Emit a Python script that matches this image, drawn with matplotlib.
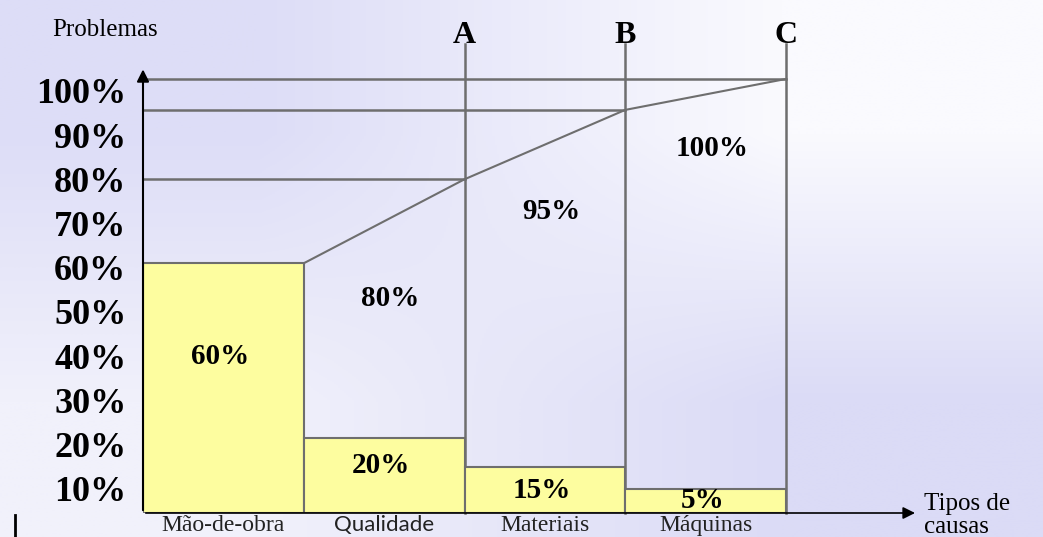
import numpy as np
import matplotlib.pyplot as plt
from matplotlib.lines import Line2D

# Pareto (ABC) diagram
categories = ['Mão-de-obra', 'Qualidade', 'Materiais', 'Máquinas']
shares = ['60%', '20%', '15%', '5%']
bar_tops = [61, 21.5, 15, 10]            # drawn bar heights (tick scale)
cum_labels = ['80%', '95%', '100%']
cum_levels = [61, 80, 95.7, 102.7]      # cumulative curve at bar edges 1..4
zones = ['A', 'B', 'C']
y_ticks = [10, 20, 30, 40, 50, 60, 70, 80, 90, 100]
y_ticklabels = ['10%', '20%', '30%', '40%', '50%', '60%', '70%', '80%', '90%', '100%']

# layout
W, H, DPI = 1043, 537, 100
base = 4.5          # baseline (x axis) value in tick scale
ytop = 120
xmax = 5
px_x = 160.75       # px per bar
px_y = 4.42         # px per percent
x0_px = 143
y0_px = 513         # baseline pixel row

serif = 'Liberation Serif'
grey = '#6e6e6e'
yellow = '#fdfd9f'

fig = plt.figure(figsize=(W / DPI, H / DPI), dpi=DPI)

# soft lavender background
bg = fig.add_axes([0, 0, 1, 1], zorder=-5)
corners = np.array([[[221, 221, 247], [250, 250, 254]],
                    [[241, 241, 251], [219, 219, 246]]]) / 255.0
bg.imshow(corners, extent=[0, 1, 0, 1], aspect='auto', interpolation='bilinear')
bg.axis('off')

ax = fig.add_axes([x0_px / W, (H - y0_px) / H,
                   xmax * px_x / W, (ytop - base) * px_y / H])
ax.set_facecolor('none')
ax.set_xlim(0, xmax)
ax.set_ylim(base, ytop)
for s in ax.spines.values():
    s.set_visible(False)

n = len(categories)
lefts = np.arange(n)
centers = lefts + 0.5
edges = lefts + 1

ax.bar(centers, np.array(bar_tops) - base, bottom=base, width=1,
       color=yellow, edgecolor=grey, linewidth=1.5, zorder=3)

# cumulative curve
ax.plot(edges, cum_levels, color=grey, lw=1.5, zorder=2)
# horizontal guides and vertical zone lines
for e, lev in zip(edges[1:], cum_levels[1:]):
    ax.plot([0, e], [lev, lev], color=grey, lw=1.8, zorder=2)
for e, z in zip(edges[1:], zones):
    ax.plot([e, e], [base, 110.5], color=grey, lw=1.8, zorder=2, clip_on=False)
    ax.text(e, 109.3, z, ha='center', va='bottom', fontsize=23,
            fontweight='bold', family=serif)

# axes arrows
ax.annotate('', xy=(0, 105.5), xytext=(0, base),
            arrowprops=dict(arrowstyle='-|>', color='black', lw=1.5,
                            mutation_scale=18), annotation_clip=False)
ax.annotate('', xy=(4.82, base), xytext=(0, base),
            arrowprops=dict(arrowstyle='-|>', color='black', lw=1.2,
                            mutation_scale=18), annotation_clip=False, zorder=4)

# labels inside bars
share_y = [40, 15.2, 9.5, 7.3]
for c, s, yy in zip(centers, shares, share_y):
    ax.text(c - 0.02, yy, s, ha='center', va='center', fontsize=21,
            fontweight='bold', family=serif, zorder=5, clip_on=True)
cum_y = [53, 72.6, 87]
for c, s, yy in zip(centers[1:], cum_labels, cum_y):
    ax.text(c + 0.04, yy, s, ha='center', va='center', fontsize=21,
            fontweight='bold', family=serif)

# ticks
ax.set_yticks(y_ticks)
ax.set_yticklabels(y_ticklabels, fontsize=26, fontweight='bold', family=serif)
ax.tick_params(axis='y', length=0, pad=12)
ax.set_xticks(centers)
ax.set_xticklabels(categories, fontsize=17, family=serif, color='#222222')
ax.tick_params(axis='x', length=0, pad=1.5)
ax.get_xticklabels()[1].set_family('Lato')
ax.get_xticklabels()[1].set_fontsize(16)

ax.text(-0.566, 112.4, 'Problemas', fontsize=18, family=serif,
        va='baseline', ha='left')
ax.text(4.86, 3.9, 'Tipos de\ncausas', fontsize=18, family=serif,
        va='center', ha='left', linespacing=1.05, clip_on=False)

fig.add_artist(Line2D([15 / W, 15 / W], [0, 22 / H], color='black', lw=2))

fig.savefig('out.png', dpi=DPI)
